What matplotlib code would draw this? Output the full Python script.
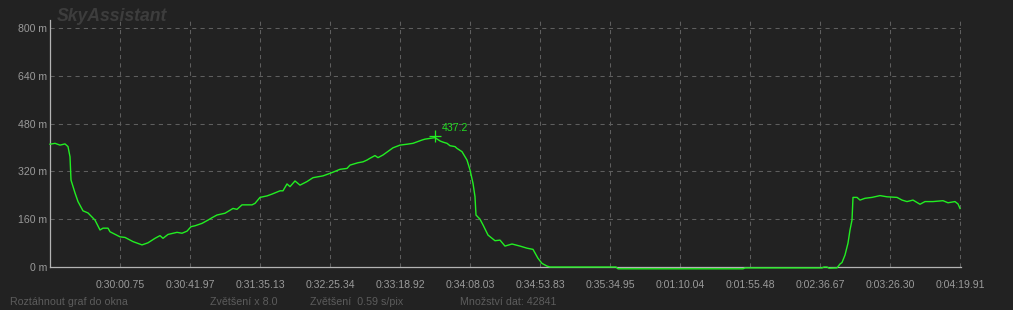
import matplotlib
matplotlib.use('Agg')
from matplotlib import pyplot as plt

plt.rcParams['font.family'] = ['Liberation Sans', 'DejaVu Sans']

# Altitude profile: position along the chart (px from the left axis) and altitude [m]
pos = [0, 5, 10, 15, 18, 20, 21, 25, 28, 33, 38, 45, 50, 53, 58, 60, 70, 75, 83, 92,
       98, 105, 110, 113, 118, 127, 132, 137, 141, 145, 152, 158, 162, 167, 175, 183,
       187, 192, 202, 205, 210, 217, 222, 230, 233, 237, 240, 245, 250, 257, 263, 273,
       282, 290, 297, 300, 308, 313, 317, 320, 325, 328, 333, 340, 343, 350, 357, 363,
       372, 375, 385, 390, 393, 397, 400, 405, 407, 412, 417, 420, 423, 425, 426, 430,
       433, 438, 445, 450, 455, 462, 470, 477, 483, 488, 492, 497, 500, 566, 568, 668,
       693, 695, 772, 774, 777, 779, 787, 790, 792, 795, 798, 800, 802, 803, 807, 810,
       815, 822, 830, 837, 847, 852, 857, 863, 870, 875, 883, 893, 898, 905, 908, 910]
alt = [411, 414, 408, 412, 403, 369, 291, 248, 219, 188, 181, 157, 124, 130, 130, 118,
       101, 99, 85, 74, 81, 96, 105, 96, 109, 116, 113, 120, 135, 138, 146, 157, 165,
       174, 180, 196, 193, 208, 208, 213, 233, 238, 244, 255, 255, 278, 269, 288, 274,
       286, 299, 305, 316, 327, 330, 341, 349, 352, 358, 364, 373, 366, 375, 392, 399,
       408, 411, 414, 425, 428, 433, 422, 418, 414, 406, 403, 397, 386, 358, 325, 280,
       235, 174, 160, 141, 107, 88, 90, 70, 77, 70, 63, 59, 29, 12, 3, 0, 0, -6, -6,
       -6, -3, -3, 0, 0, -4, -3, 10, 15, 40, 80, 124, 157, 233, 233, 224, 230, 233, 239,
       235, 233, 224, 219, 224, 210, 219, 219, 222, 215, 219, 211, 196]

peak_pos = 385
peak_alt = 437.2

y_ticks = [0, 160, 320, 480, 640, 800]
y_labels = ['0 m', '160 m', '320 m', '480 m', '640 m', '800 m']
x_ticks = [70, 140, 210, 280, 350, 420, 490, 560, 630, 700, 770, 840, 910]
x_labels = ['0:30:00.75', '0:30:41.97', '0:31:35.13', '0:32:25.34', '0:33:18.92',
            '0:34:08.03', '0:34:53.83', '0:35:34.95', '0:01:10.04', '0:01:55.48',
            '0:02:36.67', '0:03:26.30', '0:04:19.91']

bg = '#222222'
fig = plt.figure(figsize=(10.13, 3.10), dpi=100, facecolor=bg)
ax = fig.add_axes([50 / 1013, 43 / 310, 911 / 1013, 247 / 310], facecolor=bg)

ax.plot(pos, alt, color='#22ee22', lw=1.0, clip_on=False, zorder=3)
ax.plot([peak_pos], [peak_alt], marker='+', ms=9, mew=0.9, color='#22ee22', zorder=4)
ax.text(peak_pos + 7, peak_alt + 28, f'{peak_alt:.1f}', color='#22dd22', fontsize=7.6,
        va='center', ha='left')

ax.set_xlim(0, 911)
ax.set_ylim(0, 826.8)

ax.set_yticks(y_ticks, y_labels)
ax.set_xticks(x_ticks, x_labels)
ax.tick_params(length=0, colors='#9a9a9a', labelsize=7.6)
ax.tick_params(axis='y', pad=2)
ax.tick_params(axis='x', pad=9.5)

grid_kw = dict(color='#5e5e5e', lw=0.75, ls=(0, (4, 4)), zorder=1)
for x in x_ticks:
    ax.axvline(x, **grid_kw)
for y in y_ticks[1:]:
    ax.axhline(y, **grid_kw)

for side in ['top', 'right']:
    ax.spines[side].set_visible(False)
for side in ['left', 'bottom']:
    ax.spines[side].set_color('#b4b4b4')
    ax.spines[side].set_linewidth(0.9)

# Title and status bar
fig.text(57 / 1013, 1 - 21 / 310, 'SkyAssistant', color='#3d3d3d', fontsize=12.7,
         fontweight='bold', fontstyle='italic', va='baseline', ha='left')
foot_kw = dict(color='#5c5c5c', fontsize=7.7, va='center', ha='left')
fig.text(10 / 1013, 8 / 310, 'Roztáhnout graf do okna', **foot_kw)
fig.text(210 / 1013, 8 / 310, 'Zvětšení x 8.0', **foot_kw)
fig.text(310 / 1013, 8 / 310, 'Zvětšení  0.59 s/pix', **foot_kw)
fig.text(460 / 1013, 8 / 310, 'Množství dat: 42841', **foot_kw)

fig.savefig('out.png', dpi=100, facecolor=bg)
